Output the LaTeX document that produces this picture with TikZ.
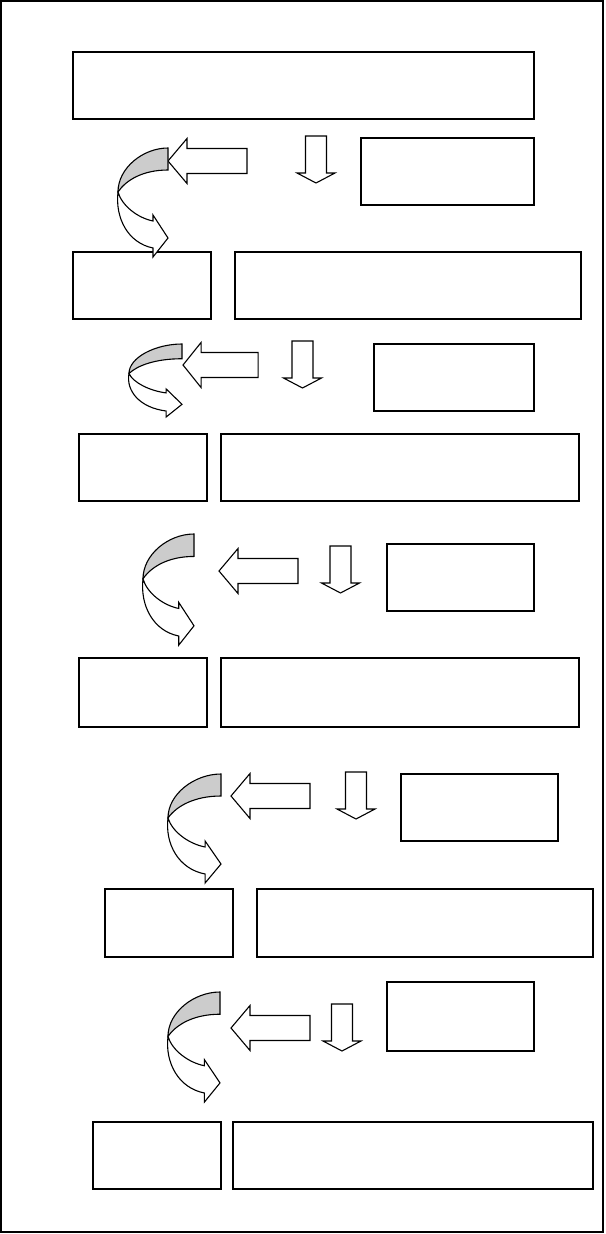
\documentclass[tikz,border=0pt]{standalone}
\usepackage{tikz}
\tikzset{
  bx/.style    = {draw, rectangle, line width=1.6pt, inner sep=0pt,
                  anchor=north west},
  blkar/.style = {draw, line width=1.1pt, fill=white, line join=miter},
  pics/leftar/.style = {code={
    \draw[blkar] (0,0) -- (19,-22.5) -- (19,-12.5) -- (79,-12.5)
      -- (79,12.5) -- (19,12.5) -- (19,22.5) -- cycle;}},
  pics/downar/.style = {code={
    \draw[blkar] (0,0) -- (-19,-10) -- (-10.5,-10) -- (-10.5,-47)
      -- (10.5,-47) -- (10.5,-10) -- (19,-10) -- cycle;}},
  pics/bendar/.style = {code={
    % shaded upper band
    \draw[blkar, fill=black!20] (0,0) .. controls (-25,0) and (-50,20) .. (-50,44)
      .. controls (-42,32) and (-25,22) .. (0,22) -- cycle;
    % lower band with its head
    \draw[blkar] (-50,44) .. controls (-53,70) and (-40,95) .. (-15,100)
      -- (-15,109) -- (0,90) -- (-15,67) -- (-15,73)
      .. controls (-30,70) and (-46,58) .. (-50,44) -- cycle;}},
}
\begin{document}
\begin{tikzpicture}[x=1pt, y=-1pt]
  \useasboundingbox (0,0) rectangle (605,1234);
  \draw[line width=1.6pt] (1,1) rectangle (603,1232);

  % boxes
  \node[bx, minimum width=461pt, minimum height=67pt] (b0) at (72,51) {};
  \node[bx, minimum width=173pt, minimum height=67pt] (n1) at (360,137) {};
  \node[bx, minimum width=138pt, minimum height=67pt] (l1) at (72,251) {};
  \node[bx, minimum width=346pt, minimum height=67pt] (r1) at (234,251) {};
  \node[bx, minimum width=160pt, minimum height=67pt] (n2) at (373,343) {};
  \node[bx, minimum width=128pt, minimum height=67pt] (l2) at (78,433) {};
  \node[bx, minimum width=358pt, minimum height=67pt] (r2) at (220,433) {};
  \node[bx, minimum width=147pt, minimum height=67pt] (n3) at (386,543) {};
  \node[bx, minimum width=128pt, minimum height=69pt] (l3) at (78,657) {};
  \node[bx, minimum width=358pt, minimum height=69pt] (r3) at (220,657) {};
  \node[bx, minimum width=157pt, minimum height=67pt] (n4) at (400,773) {};
  \node[bx, minimum width=128pt, minimum height=68pt] (l4) at (104,888) {};
  \node[bx, minimum width=336pt, minimum height=68pt] (r4) at (256,888) {};
  \node[bx, minimum width=147pt, minimum height=69pt] (n5) at (386,981) {};
  \node[bx, minimum width=128pt, minimum height=67pt] (l5) at (92,1121) {};
  \node[bx, minimum width=360pt, minimum height=67pt] (r5) at (232,1121) {};

  % block arrows
  \pic at (168,161) {leftar};
  \pic at (316,183) {downar};
  \pic[xscale=0.95] at (183,365) {leftar};
  \pic at (302.5,388) {downar};
  \pic at (219,571) {leftar};
  \pic at (340.5,593) {downar};
  \pic at (231,796) {leftar};
  \pic at (356,819) {downar};
  \pic at (231,1028) {leftar};
  \pic at (342,1051) {downar};

  % bent arrows
  \pic at (168,148) {bendar};
  \pic[xscale=1.06, yscale=0.67] at (182,344) {bendar};
  \pic[xscale=1.02, yscale=1.02] at (194,534) {bendar};
  \pic[xscale=1.06] at (221,774) {bendar};
  \pic[xscale=1.04, yscale=1.01] at (220,992) {bendar};
\end{tikzpicture}
\end{document}
